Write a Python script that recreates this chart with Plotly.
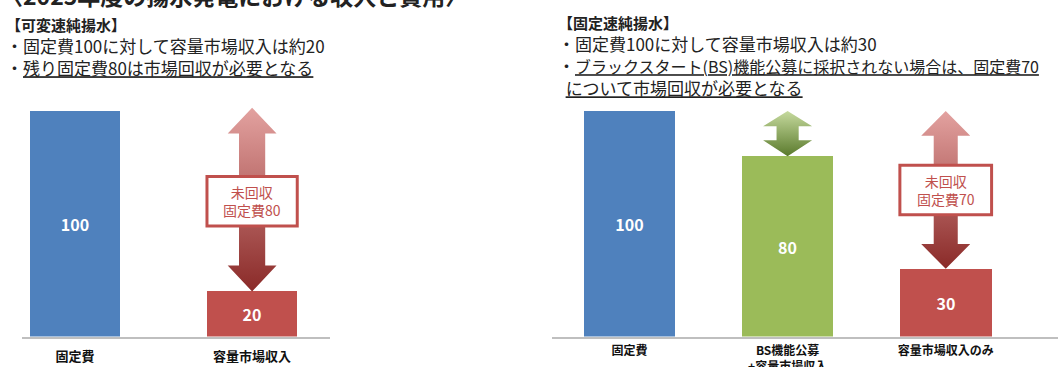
import plotly.graph_objects as go

W, H = 1058, 367

# ---- data ----
left_labels = ["固定費", "容量市場収入"]
left_values = [100, 20]
left_colors = ["#4f81bd", "#c0504d"]

right_labels = ["固定費", "BS機能公募<br>+容量市場収入", "容量市場収入のみ"]
right_values = [100, 80, 30]
right_colors = ["#4f81bd", "#9bbb59", "#c0504d"]

title_text = "〈2025年度の揚水発電における収入と費用〉"
left_head = "【可変速純揚水】"
left_bullets = ["・固定費100に対して容量市場収入は約20",
                "・<u>残り固定費80は市場回収が必要となる</u>"]
right_head = "【固定速純揚水】"
right_bullets = ["・固定費100に対して容量市場収入は約30",
                 "・<span style='font-size:16px'><u>ブラックスタート(BS)機能公募に採択されない場合は、固定費70</u></span>",
                 "  <u>について市場回収が必要となる</u>"]

FONT = "Noto Sans CJK JP"
TXT = "#222222"


def px(x):
    return x / W


def py(y):
    return 1 - y / H


def arrow_xy(c, top, bot, hw, sw, hh_top, hh_bot):
    xs = [c, c + hw, c + sw, c + sw, c + hw, c, c - hw, c - sw, c - sw, c - hw, c]
    ys = [top, top - hh_top, top - hh_top, bot + hh_bot, bot + hh_bot, bot,
          bot + hh_bot, bot + hh_bot, top - hh_top, top - hh_top, top]
    return xs, ys


fig = go.Figure()

# bars
fig.add_trace(go.Bar(
    x=list(range(len(left_values))), y=left_values, width=0.51,
    marker=dict(color=left_colors, line=dict(width=0)),
    text=[str(v) for v in left_values], textposition="inside",
    insidetextanchor="middle",
    textfont=dict(family=FONT, size=16, color="white", weight="bold"),
    xaxis="x", yaxis="y", showlegend=False, hoverinfo="skip"))

fig.add_trace(go.Bar(
    x=list(range(len(right_values))), y=right_values, width=0.58,
    marker=dict(color=right_colors, line=dict(width=0)),
    text=[str(v) for v in right_values], textposition="inside",
    insidetextanchor="middle",
    textfont=dict(family=FONT, size=16, color="white", weight="bold"),
    xaxis="x2", yaxis="y2", showlegend=False, hoverinfo="skip"))

RED_GRAD = [[0, "#8a2a28"], [1, "#e3a2a0"]]
GREEN_GRAD = [[0, "#5a7a2c"], [1, "#c6da9e"]]

# double arrows: fixed cost down to revenue
ax, ay = arrow_xy(1, left_values[0] + 1.5, left_values[1], 0.138, 0.074, 11.5, 11.5)
fig.add_trace(go.Scatter(x=ax, y=ay, mode="lines", line=dict(width=0),
                         fill="toself", fillgradient=dict(type="vertical", colorscale=RED_GRAD),
                         xaxis="x", yaxis="y", showlegend=False, hoverinfo="skip"))

ax, ay = arrow_xy(1, right_values[0], right_values[1], 0.155, 0.07, 6.7, 7)
fig.add_trace(go.Scatter(x=ax, y=ay, mode="lines", line=dict(width=0),
                         fill="toself", fillgradient=dict(type="vertical", colorscale=GREEN_GRAD),
                         xaxis="x2", yaxis="y2", showlegend=False, hoverinfo="skip"))

ax, ay = arrow_xy(2, right_values[0], right_values[2], 0.155, 0.076, 11, 11)
fig.add_trace(go.Scatter(x=ax, y=ay, mode="lines", line=dict(width=0),
                         fill="toself", fillgradient=dict(type="vertical", colorscale=RED_GRAD),
                         xaxis="x2", yaxis="y2", showlegend=False, hoverinfo="skip"))

shapes = []
annotations = []

# unrecovered fixed cost boxes
for xref, yref, idx, half_w, fixed, rev in [
        ("x", "y", 1, 0.255, left_values[0], left_values[1]),
        ("x2", "y2", 2, 0.29, right_values[0], right_values[2])]:
    mid = (fixed + rev) / 2
    shapes.append(dict(type="rect", xref=xref, yref=yref,
                       x0=idx - half_w, x1=idx + half_w, y0=mid - 11, y1=mid + 11,
                       fillcolor="white", line=dict(color="#c0504d", width=3),
                       layer="above"))
    annotations.append(dict(xref=xref, yref=yref, x=idx, y=mid,
                            text=f"未回収<br>固定費{fixed - rev}", showarrow=False,
                            font=dict(family=FONT, size=14, color="#c0504d"),
                            align="center"))

# page title (runs off the top edge)
annotations.append(dict(xref="paper", yref="paper", x=px(-2), y=py(-5), xanchor="left",
                        yanchor="middle", text=f"<b>{title_text}</b>", showarrow=False,
                        font=dict(family=FONT, size=23, color=TXT)))


def header_block(head, bullets):
    return "<br>".join([f"<span style='font-size:15px'><b>{head}</b></span>"] + bullets)


annotations.append(dict(xref="paper", yref="paper", x=px(4), y=py(12), xanchor="left",
                        yanchor="top", align="left", text=header_block(left_head, left_bullets),
                        showarrow=False, font=dict(family=FONT, size=17, color=TXT)))
annotations.append(dict(xref="paper", yref="paper", x=px(556), y=py(10), xanchor="left",
                        yanchor="top", align="left", text=header_block(right_head, right_bullets),
                        showarrow=False, font=dict(family=FONT, size=17, color=TXT)))

YDOM = [py(336.5), py(84)]
axis_common = dict(showgrid=False, zeroline=False, showline=True, linecolor="#bfbfbf",
                   linewidth=2, ticks="", fixedrange=True, automargin=False)

fig.update_layout(
    width=W, height=H, margin=dict(l=0, r=0, t=0, b=0),
    paper_bgcolor="white", plot_bgcolor="white", bargap=0,
    xaxis=dict(domain=[px(22), px(330)], range=[-0.30, 1.44], anchor="y",
               tickmode="array", tickvals=list(range(len(left_labels))),
               ticktext=left_labels, ticklabelstandoff=7,
               tickfont=dict(family=FONT, size=13, color="#111111", weight="bold"),
               **axis_common),
    yaxis=dict(domain=YDOM, range=[0, 112], visible=False, anchor="x", automargin=False),
    xaxis2=dict(domain=[px(552), 1.0], range=[-0.49, 2.71], anchor="y2",
                tickmode="array", tickvals=list(range(len(right_labels))),
                ticktext=right_labels, ticklabelstandoff=2,
                tickfont=dict(family=FONT, size=12, color="#111111", weight="bold"),
                **axis_common),
    yaxis2=dict(domain=YDOM, range=[0, 112], visible=False, anchor="x2", automargin=False),
    shapes=shapes, annotations=annotations,
)

fig.write_html("out.html")
